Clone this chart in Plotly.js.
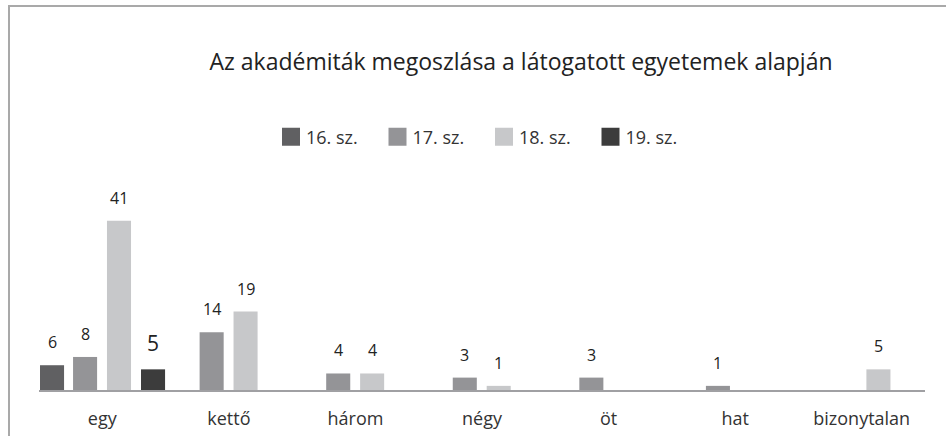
<!DOCTYPE html>
<html>
<head>
<meta charset="utf-8">
<script src="https://cdn.plot.ly/plotly-3.0.1.min.js"></script>
<style>
  html, body { margin: 0; padding: 0; background: #fff; }
  #wrap { position: relative; width: 946px; height: 436px; }
  #chart { position: absolute; left: 0; top: 0; width: 946px; height: 436px; }
  #frame { position: absolute; left: 8px; top: 5px; width: 938px; height: 431px;
           border-top: 2px solid #a9a9a9; border-left: 2px solid #a9a9a9; box-sizing: border-box; pointer-events: none; }
</style>
</head>
<body>
<div id="wrap">
  <div id="chart"></div>
  <div id="frame"></div>
</div>
<script>
const categories = ["egy", "kettő", "három", "négy", "öt", "hat", "bizonytalan"];
const seriesNames = ["16. sz.", "17. sz.", "18. sz.", "19. sz."];
const s16 = [6, null, null, null, null, null, null];
const s17 = [8, 14, 4, 3, 3, 1, null];
const s18 = [41, 19, 4, 1, null, null, 5];
const s19 = [5, null, null, null, null, null, null];
const titleText = "Az akadémiták megoszlása a látogatott egyetemek alapján";

const series = [s16, s17, s18, s19];
const colors = ["#606062", "#949497", "#c7c8ca", "#3c3c3c"];
const offsets = [-0.492, -0.231, 0.037, 0.306];
const barW = 0.19;
const labelSizes = [16, 16, 16, 21];
const FONT = "'Open Sans', sans-serif";

const traces = series.map((vals, i) => ({
  type: "bar",
  name: seriesNames[i],
  x: categories,
  y: vals,
  width: barW,
  offset: offsets[i],
  marker: { color: colors[i], line: { width: 0 } },
  hoverinfo: "none"
}));

const annotations = [];
series.forEach((vals, i) => {
  vals.forEach((v, j) => {
    if (v === null) return;
    annotations.push({
      x: j + offsets[i] + barW / 2,
      y: v,
      xref: "x", yref: "y",
      text: String(v),
      showarrow: false,
      yanchor: "bottom",
      yshift: 10,
      font: { family: FONT, size: labelSizes[i], color: "#222" }
    });
  });
});

const layout = {
  width: 946, height: 436,
  margin: { l: 39, r: 21, t: 200, b: 46 },
  paper_bgcolor: "#fff", plot_bgcolor: "#fff",
  showlegend: true,
  barmode: "group",
  title: {
    text: titleText,
    font: { family: FONT, size: 23, color: "#222" },
    xref: "container", yref: "container",
    x: 521 / 946, xanchor: "center",
    y: 1 - 62 / 436, yanchor: "middle"
  },
  legend: {
    orientation: "h",
    xref: "container", yref: "container",
    x: 266 / 946, xanchor: "left",
    y: 1 - 137 / 436, yanchor: "middle",
    font: { family: FONT, size: 18, color: "#333" },
    traceorder: "normal",
    entrywidth: 61.5, entrywidthmode: "pixels"
  },
  xaxis: {
    type: "category",
    categoryorder: "array",
    categoryarray: categories,
    range: [-0.5, categories.length - 0.5],
    showline: true, linecolor: "#a0a0a3", linewidth: 2,
    ticks: "", showgrid: false, zeroline: false,
    tickfont: { family: FONT, size: 18, color: "#333" },
    ticklabelstandoff: 11
  },
  yaxis: {
    range: [0, 46],
    visible: false, showgrid: false, zeroline: false
  },
  annotations: annotations
};

Plotly.newPlot("chart", traces, layout, { staticPlot: true, displayModeBar: false }).then(() => {
  document.querySelectorAll("#chart .legend .legendpoints path").forEach(p => {
    const t = p.getAttribute("transform") || "";
    p.setAttribute("transform", t + " translate(5,0) scale(1.5)");
  });
});
</script>
</body>
</html>
